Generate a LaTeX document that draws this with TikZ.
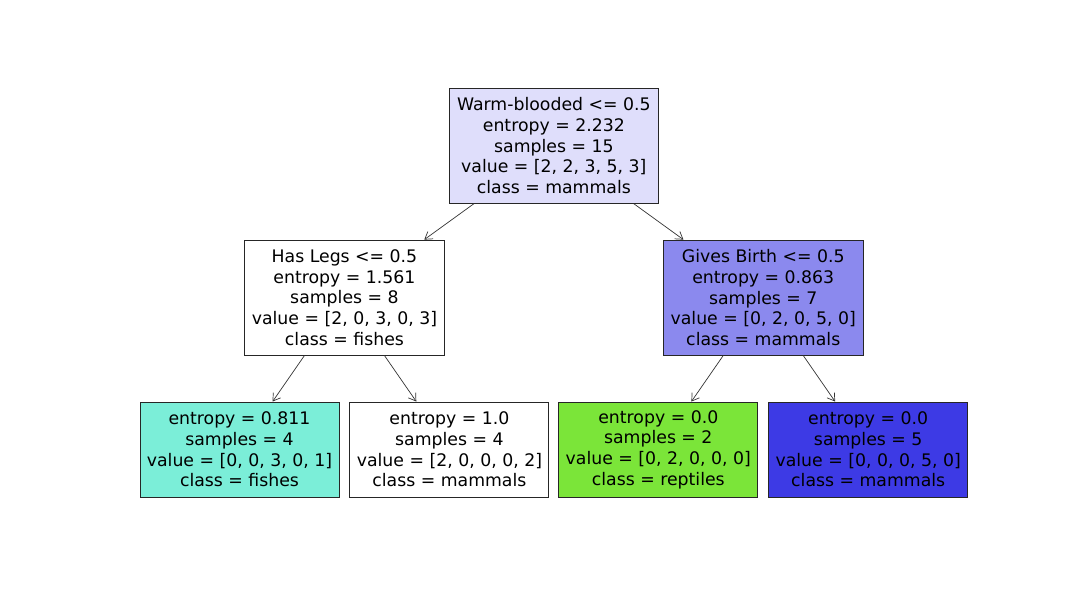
\documentclass[tikz,border=0pt]{standalone}
\usepackage{fontspec}
\setmainfont{DejaVu Sans}
\usepackage{tikz}
\usetikzlibrary{positioning,calc,arrows.meta}

\definecolor{rootcol}{RGB}{223,222,251}
\definecolor{birthcol}{RGB}{139,137,238}
\definecolor{fishcol}{RGB}{123,238,216}
\definecolor{reptcol}{RGB}{123,229,57}
\definecolor{mammcol}{RGB}{61,58,229}

\begin{document}
\begin{tikzpicture}[x=1pt,y=1pt,
    box/.style={draw=black!85, line width=0.9pt, align=center, inner sep=0pt,
      font=\fontsize{17.3}{20.6}\selectfont},
    split/.style={box, minimum width=200pt, minimum height=115pt},
    leaf/.style={box, minimum width=199pt, minimum height=95pt},
    edge/.style={draw=black!80, line width=0.7pt, -{Straight Barb[length=7pt,width=9pt]}}]
    \useasboundingbox (0,0) rectangle (1080,-600);
    % leaves
    \node[leaf, fill=fishcol] at (239.5,-449.5) (fish) {entropy = 0.811\\samples = 4\\value = [0, 0, 3, 0, 1]\\class = fishes};
    \node[leaf, right=10pt of fish] (mixed) {entropy = 1.0\\samples = 4\\value = [2, 0, 0, 0, 2]\\class = mammals};
    \node[leaf, fill=reptcol, right=9pt of mixed] (rept) {entropy = 0.0\\samples = 2\\value = [0, 2, 0, 0, 0]\\class = reptiles};
    \node[leaf, fill=mammcol, right=10pt of rept] (mamm) {entropy = 0.0\\samples = 5\\value = [0, 0, 0, 5, 0]\\class = mammals};
    % splits
    \coordinate (m1) at ($(fish.north)!0.5!(mixed.north)$);
    \coordinate (m2) at ($(rept.north)!0.5!(mamm.north)$);
    \node[split, above=46pt of m1] (legs) {Has Legs <= 0.5\\entropy = 1.561\\samples = 8\\value = [2, 0, 3, 0, 3]\\class = fishes};
    \node[split, fill=birthcol, above=46pt of m2] (birth) {Gives Birth <= 0.5\\entropy = 0.863\\samples = 7\\value = [0, 2, 0, 5, 0]\\class = mammals};
    \coordinate (m0) at ($(legs.north)!0.5!(birth.north)$);
    \node[split, fill=rootcol, minimum width=209pt, above=36pt of m0] (warm) {Warm-blooded <= 0.5\\entropy = 2.232\\samples = 15\\value = [2, 2, 3, 5, 3]\\class = mammals};
    \draw[edge] (warm) -- (legs);
    \draw[edge] (warm) -- (birth);
    \draw[edge] (legs) -- (fish);
    \draw[edge] (legs) -- (mixed);
    \draw[edge] (birth) -- (rept);
    \draw[edge] (birth) -- (mamm);
\end{tikzpicture}
\end{document}
